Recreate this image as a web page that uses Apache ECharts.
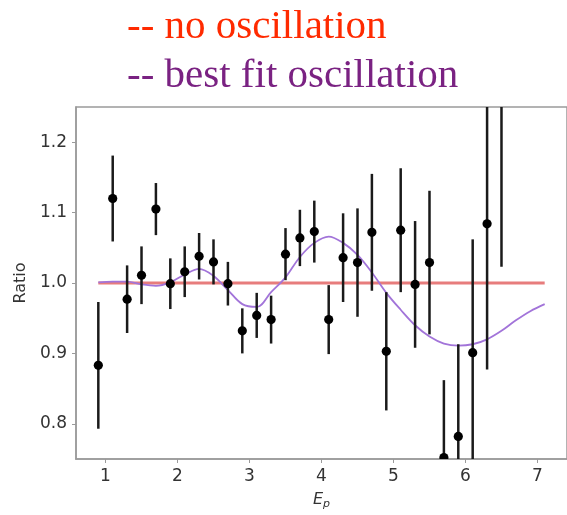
<!DOCTYPE html>
<html>
<head>
<meta charset="utf-8">
<script src="https://cdn.jsdelivr.net/npm/echarts@6/dist/echarts.min.js"></script>
<style>
html,body{margin:0;padding:0;background:#fff;}
#chart{width:567px;height:515px;}
</style>
</head>
<body>
<div id="chart"></div>
<script>
// Measured data points
var energies = [0.9,1.1,1.3,1.5,1.7,1.9,2.1,2.3,2.5,2.7,2.9,3.1,3.3,3.5,3.7,3.9,4.1,4.3,4.5,4.7,4.9,5.1,5.3,5.5,5.7,5.9,6.1,6.3,6.5];
var ratios = [0.883,1.120,0.977,1.011,1.105,0.999,1.016,1.038,1.030,0.999,0.932,0.954,0.948,1.041,1.064,1.073,0.948,1.036,1.029,1.072,0.903,1.075,0.998,1.029,0.752,0.782,0.901,1.084,1.280];
var errors = [0.090,0.061,0.048,0.041,0.037,0.036,0.036,0.033,0.032,0.031,0.032,0.032,0.034,0.037,0.040,0.044,0.049,0.063,0.077,0.083,0.084,0.088,0.090,0.102,0.110,0.131,0.161,0.207,0.257];

// No-oscillation reference line
var noOscX = [0.9, 7.1];
var noOscY = [1.0, 1.0];

// Best fit oscillation curve
var fitX = [0.9,1.1,1.3,1.5,1.7,1.9,2.1,2.3,2.5,2.7,2.9,3.1,3.3,3.5,3.7,3.9,4.1,4.3,4.5,4.7,4.9,5.1,5.3,5.5,5.7,5.9,6.1,6.3,6.5,6.7,6.9,7.1];
var fitY = [1.001,1.002,1.002,0.998,0.996,1.001,1.012,1.020,1.010,0.990,0.970,0.966,0.987,1.008,1.037,1.057,1.066,1.057,1.040,1.015,0.986,0.962,0.940,0.924,0.914,0.911,0.913,0.920,0.932,0.947,0.960,0.970];

// Tick labels
var xTicks = [1,2,3,4,5,6,7];
var yTicks = [0.8,0.9,1.0,1.1,1.2];

var legendLine1 = '-- no oscillation';
var legendLine2 = '-- best fit oscillation';

var chart = echarts.init(document.getElementById('chart'), null, {renderer:'canvas'});

var pts = energies.map(function(x,i){return [x, ratios[i]];});
var bars = energies.map(function(x,i){return [x, ratios[i]-errors[i], ratios[i]+errors[i]];});
var redLine = noOscX.map(function(x,i){return [x, noOscY[i]];});
var fitLine = fitX.map(function(x,i){return [x, fitY[i]];});

var option = {
  animation: false,
  backgroundColor: '#fff',
  graphic: [
    {type:'text', left: 127, top: 7, style:{text: legendLine1, font: '41px "Liberation Serif"', fill:'#ff2a00'}},
    {type:'text', left: 127, top: 56, style:{text: legendLine2, font: '41px "Liberation Serif"', fill:'#7a2282'}}
  ],
  grid: {left: 76, top: 107, right: -6, bottom: 52, show: true, borderColor: '#9a9a9a', borderWidth: 1.5, backgroundColor:'transparent'},
  xAxis: {
    type: 'value', min: 0.59, max: 7.41,
    name: '{e|E}{p|p}', nameLocation: 'middle', nameGap: 30,
    nameTextStyle: {rich: {
      e: {fontFamily:'DejaVu Sans', fontStyle:'italic', fontSize:16, color:'#333'},
      p: {fontFamily:'DejaVu Sans', fontStyle:'italic', fontSize:11, color:'#333', verticalAlign:'bottom', padding:[10,0,0,0]}
    }},
    axisLine: {show: true, onZero: false, lineStyle: {color:'#9a9a9a', width:1.5}},
    axisTick: {show: true, length: 4, inside: false, customValues: xTicks, lineStyle:{color:'#9a9a9a'}},
    axisLabel: {customValues: xTicks, margin: 9, fontFamily:'DejaVu Sans', fontSize: 17, color:'#333', formatter: function(v){return String(Math.round(v));}},
    splitLine: {show: false}
  },
  yAxis: {
    type: 'value', min: 0.75, max: 1.25,
    name: 'Ratio', nameLocation: 'middle', nameGap: 47, nameRotate: 90,
    nameTextStyle: {fontFamily:'DejaVu Sans', fontSize: 16, color:'#333'},
    axisLine: {show: true, lineStyle: {color:'#9a9a9a', width:1.5}},
    axisTick: {show: true, length: 4, customValues: yTicks, lineStyle:{color:'#9a9a9a'}},
    axisLabel: {customValues: yTicks, margin: 9, fontFamily:'DejaVu Sans', fontSize: 17, color:'#333', formatter: function(v){return v.toFixed(1);}},
    splitLine: {show: false}
  },
  series: [
    {type:'line', data: redLine, symbol:'none', lineStyle:{color:'#e77c7c', width:3}, z:1},
    {type:'line', data: fitLine, symbol:'none', smooth: 0.35, lineStyle:{color:'#a274d9', width:1.8}, z:2},
    {type:'custom', clip: true, z:3,
      renderItem: function(params, api){
        var p1 = api.coord([api.value(0), api.value(1)]);
        var p2 = api.coord([api.value(0), api.value(2)]);
        return {type:'line', shape:{x1:p1[0], y1:p1[1], x2:p2[0], y2:p2[1]}, style:{stroke:'#1a1a1a', lineWidth:2.5}};
      },
      encode: {x:0, y:[1,2]},
      data: bars
    },
    {type:'custom', clip: true, z:4,
      renderItem: function(params, api){
        var p = api.coord([api.value(0), api.value(1)]);
        return {type:'circle', shape:{cx:p[0], cy:p[1], r:4.6}, style:{fill:'#000'}};
      },
      encode: {x:0, y:1},
      data: pts
    }
  ]
};
chart.setOption(option);
</script>
</body>
</html>
